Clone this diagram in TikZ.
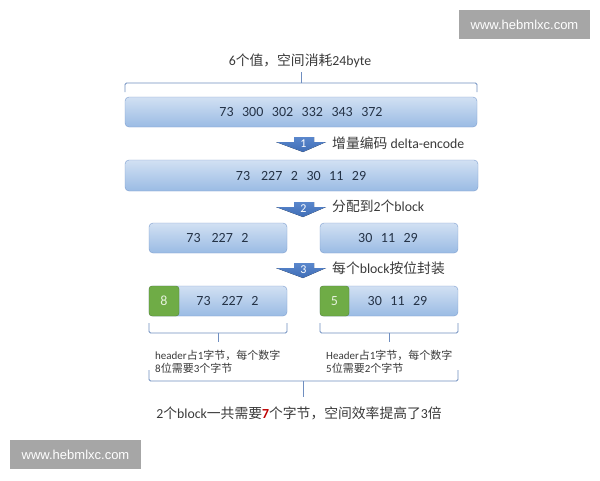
\documentclass[tikz,border=0pt]{standalone}
\usepackage{fontspec}
\setmainfont{Carlito}
\newfontfamily\cjk{Noto Sans CJK SC}
\newfontfamily\wmfont{Liberation Sans}
\newcommand\numgap{\hspace{8.5pt}}
\begin{document}
\begin{tikzpicture}[x=1pt,y=-1pt,
  greenbox/.style={draw=greenedge, fill=greenfill, rounded corners=3pt, inner sep=0pt, text=greentext, font=\fontsize{14}{16}\selectfont},
  numtext/.style={text=numcol, font=\fontsize{14}{16}\selectfont, inner sep=0pt},
  label/.style={text=txtcol, font=\fontsize{13.8}{16}\selectfont, inner sep=0pt},
  smalltext/.style={text=txtcol, font=\fontsize{11}{12.5}\selectfont, inner sep=0pt, align=left},
  bracket/.style={draw=bracecol, line width=0.8pt, rounded corners=1.5pt},
  arrownum/.style={text=white, font=\fontsize{12}{13}\selectfont, inner sep=0pt},
  watermark/.style={text=white, font=\wmfont\fontsize{13}{15}\selectfont, inner sep=0pt}
]
\definecolor{boxblue}{HTML}{9ABBE4}
\definecolor{boxedge}{HTML}{7D9ECF}
\definecolor{greenfill}{HTML}{6FAC46}
\definecolor{greenedge}{HTML}{548235}
\definecolor{greentext}{HTML}{E6F2DC}
\definecolor{numcol}{HTML}{243246}
\definecolor{txtcol}{HTML}{3A3A3A}
\definecolor{bracecol}{HTML}{6F8EC0}
\definecolor{arrowcol}{HTML}{3F6DB6}
\definecolor{arrowtop}{HTML}{5A87CC}
\definecolor{wmgray}{HTML}{A6A6A6}
\definecolor{redseven}{HTML}{C00000}
\tikzset{bluebox/.style={draw=boxedge, rounded corners=4pt, top color=boxblue!45!white, bottom color=boxblue, inner sep=0pt}}

\fill[white] (0,0) rectangle (600,480);
\useasboundingbox (0,0) rectangle (600,480);

% watermarks
\fill[wmgray] (459,10) rectangle (590,39);
\node[watermark] (wm1) at (524.5,24.5) {www.hebmlxc.com};
\fill[wmgray] (10,440) rectangle (141,469);
\node[watermark] (wm2) at (75.5,454.5) {www.hebmlxc.com};

% top text and brace
\node[label] (toptext) at (300,61) {6{\cjk 个值，空间消耗}24byte};
\draw[bracket] (125,92) -- (125,83) -- (477,83) -- (477,92);
\draw[bracket] (301,83) -- (301,72);

% box 1
\node[bluebox, minimum width=352pt, minimum height=30pt] (box1) at (301,112) {};
\node[numtext] (t1) at (301,112) {73\numgap300\numgap302\numgap332\numgap343\numgap372};

% arrows
\foreach \ay/\num/\nm in {137/1/a1, 202/2/a2, 263/3/a3}{
  \fill[top color=arrowtop, bottom color=arrowcol] (294,\ay) -- (314,\ay) -- (314,\ay+5) -- (326,\ay+5) -- (303,\ay+15) -- (276,\ay+5) -- (294,\ay+5) -- cycle;
  \node[arrownum] (\nm) at (303.5,\ay+6.5) {\num};
}
\node[label, anchor=west] (l1) at (332,143) {{\cjk 增量编码} delta-encode};
\node[label, anchor=west] (l2) at (332,206) {{\cjk 分配到}2{\cjk 个}block};
\node[label, anchor=west] (l3) at (332,268) {{\cjk 每个}block{\cjk 按位封装}};

% box 2
\node[bluebox, minimum width=353pt, minimum height=31pt] (box2) at (301.5,175.5) {};
\node[numtext] (t2) at (301,175.5) {73\hspace{11pt}227\numgap2\numgap30\numgap11\numgap29};

% boxes 3
\node[bluebox, minimum width=138pt, minimum height=30pt] (box3a) at (218,238) {};
\node[numtext] (t3a) at (217.5,238) {73\hspace{11pt}227\numgap2};
\node[bluebox, minimum width=138pt, minimum height=30pt] (box3b) at (389,238) {};
\node[numtext] (t3b) at (388,238) {30\numgap11\numgap29};

% boxes 4
\node[bluebox, minimum width=138pt, minimum height=30pt] (box4a) at (218,301) {};
\node[greenbox, minimum width=30pt, minimum height=30pt] (g4a) at (164,301) {8};
\node[numtext] (t4a) at (227.5,301) {73\hspace{11pt}227\numgap2};
\node[bluebox, minimum width=138pt, minimum height=30pt] (box4b) at (389,301) {};
\node[greenbox, minimum width=29pt, minimum height=30pt] (g4b) at (334.5,301) {5};
\node[numtext] (t4b) at (397.5,301) {30\numgap11\numgap29};

% small braces
\draw[bracket] (149,323) -- (149,333) -- (287,333) -- (287,323);
\draw[bracket] (218,333) -- (218,342);
\draw[bracket] (320,323) -- (320,333) -- (458,333) -- (458,323);
\draw[bracket] (389,333) -- (389,342);

% small texts
\node[smalltext, anchor=west] (s1) at (155,362) {header{\cjk 占}1{\cjk 字节，每个数字}\\8{\cjk 位需要}3{\cjk 个字节}};
\node[smalltext, anchor=west] (s2) at (326,362) {Header{\cjk 占}1{\cjk 字节，每个数字}\\5{\cjk 位需要}2{\cjk 个字节}};

% big brace
\draw[bracket] (149,370) -- (149,381) -- (458,381) -- (458,370);
\draw[bracket] (303,381) -- (303,397);

% bottom text
\node[label] (bottomtext) at (299,413) {2{\cjk 个}block{\cjk 一共需要}{\bfseries\color{redseven}7}{\cjk 个字节，空间效率提高了}3{\cjk 倍}};
\end{tikzpicture}
\end{document}
